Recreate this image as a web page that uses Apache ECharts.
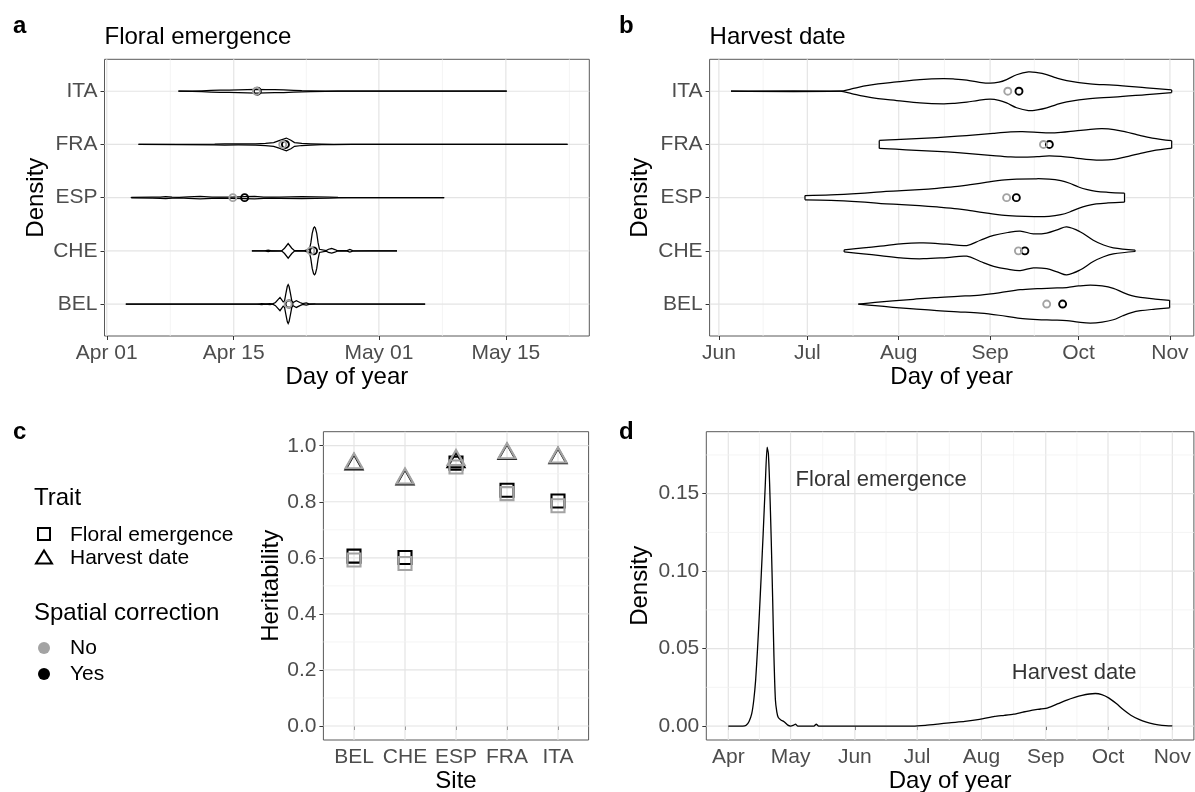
<!DOCTYPE html>
<html>
<head>
<meta charset="utf-8">
<script src="https://cdn.jsdelivr.net/npm/echarts@6/dist/echarts.min.js"></script>
<style>
  html, body { margin: 0; padding: 0; background: #fff; }
  #chart { width: 1195px; height: 792px; }
</style>
</head>
<body>
<div id="chart"></div>
<script>
const sites = ['BEL', 'CHE', 'ESP', 'FRA', 'ITA'];
const siteTicks = [1, 2, 3, 4, 5];

// a - floral emergence (day of year)
const feTicks = [91, 105, 121, 135];
const feTickLabels = ['Apr 01', 'Apr 15', 'May 01', 'May 15'];
const feMinor = [98, 113, 128, 142];
// violin outlines: [day, half width in site units]
const feBEL = [[93.1,0],[107.5,0],[108.1,0.008],[108.5,0.002],[109.0,0.008],[109.3,0.003],[109.6,0.03],[110.1,0.125],[110.45,0.04],[110.6,0.06],[110.75,0.2],[110.9,0.33],[111.0,0.366],[111.1,0.33],[111.25,0.2],[111.4,0.06],[111.55,0.03],[111.9,0.063],[112.3,0.03],[112.6,0.008],[113.0,0.02],[113.3,0.005],[114.0,0.002],[126.1,0]];
const feCHE = [[107.0,0],[108.4,0.002],[108.8,0.012],[109.2,0.002],[110.3,0.004],[110.6,0.05],[111.0,0.138],[111.4,0.05],[111.7,0.005],[112.8,0.004],[113.35,0.03],[113.5,0.15],[113.65,0.33],[113.8,0.43],[113.9,0.45],[114.0,0.43],[114.15,0.33],[114.3,0.15],[114.45,0.03],[115.2,0.005],[115.45,0.03],[115.8,0.044],[116.15,0.025],[116.4,0.004],[117.5,0.004],[117.8,0.025],[118.1,0.004],[120,0.002],[123.0,0]];
const feESP = [[93.7,0.006],[96,0.008],[96.9,0.012],[97.5,0.018],[98.2,0.01],[99,0.006],[100,0.014],[101.3,0.024],[102.6,0.012],[103.5,0.008],[104.9,0.012],[106.2,0.02],[107.3,0.024],[108.3,0.012],[109.2,0.008],[110.1,0.012],[112.5,0.018],[115.6,0.01],[116.5,0.004],[118,0.001],[128.2,0]];
const feFRA = [[94.5,0],[99,0.003],[102.9,0.006],[104,0.012],[105.5,0.01],[107.4,0.012],[108.5,0.022],[109.4,0.035],[110.0,0.07],[110.8,0.12],[111.3,0.08],[111.7,0.035],[112.5,0.02],[113.5,0.012],[114.7,0.005],[116,0.002],[118,0.001],[141.8,0]];
const feITA = [[98.9,0],[100.4,0.004],[101.5,0.008],[102.5,0.015],[103.5,0.02],[104.5,0.022],[105.5,0.026],[106.5,0.03],[107.5,0.034],[108.5,0.03],[109.5,0.028],[110.5,0.024],[111.6,0.018],[112.5,0.01],[113.5,0.006],[115.1,0.002],[116.5,0],[135.1,0]];
const feMeanNo = [111.0, 113.5, 104.9, 110.4, 107.5];
const feMeanYes = [111.1, 113.8, 106.2, 110.7, 107.6];

// b - harvest date (day of year)
const hdTicks = [152, 182, 213, 244, 274, 305];
const hdTickLabels = ['Jun', 'Jul', 'Aug', 'Sep', 'Oct', 'Nov'];
const hdMinor = [167, 197.5, 228.5, 259, 289.5];
const hdBEL = [[199.3,0],[205,0.03],[211,0.06],[218,0.09],[225,0.12],[233,0.145],[240.7,0.17],[247,0.21],[254.2,0.27],[260,0.29],[265,0.3],[270,0.31],[274,0.34],[278,0.357],[282,0.34],[285.8,0.295],[289,0.22],[292,0.16],[295,0.125],[300,0.095],[304.9,0.07]];
const hdCHE = [[194.5,0.02],[201,0.056],[206.7,0.088],[214.6,0.138],[221.4,0.148],[229.3,0.125],[236.1,0.1],[240.7,0.2],[245.2,0.29],[250,0.345],[254.2,0.37],[258.7,0.32],[263.2,0.335],[267,0.4],[270,0.45],[274.5,0.36],[279,0.2],[282.5,0.11],[285.8,0.056],[293.2,0.012]];
const hdESP = [[181.2,0.04],[190,0.05],[200,0.08],[207,0.11],[214,0.13],[220,0.15],[226,0.175],[233,0.21],[238,0.25],[243,0.29],[248,0.33],[253,0.348],[259,0.355],[264,0.35],[268,0.32],[271,0.27],[274,0.2],[277,0.15],[280,0.118],[284,0.1],[289.6,0.085]];
const hdFRA = [[206.4,0.075],[212,0.09],[219,0.11],[226,0.13],[233,0.155],[239,0.18],[245,0.21],[251,0.235],[255,0.24],[260,0.228],[264,0.215],[268,0.225],[273,0.255],[278,0.285],[282,0.295],[286,0.28],[290,0.235],[294,0.18],[299,0.12],[305.6,0.07]];
const hdITA = [[156.1,0],[193.1,0],[197,0.045],[201,0.094],[206,0.14],[212.3,0.175],[220.2,0.219],[228.1,0.238],[232,0.228],[236.1,0.207],[240,0.17],[244,0.15],[247,0.17],[249.6,0.219],[253,0.31],[257,0.363],[260,0.35],[263.2,0.313],[266.5,0.25],[270,0.2],[277.9,0.138],[285.8,0.113],[297.1,0.063],[305.6,0.025]];
const hdMeanNo = [263.2, 253.6, 249.6, 262.1, 250.0];
const hdMeanYes = [268.6, 255.8, 252.9, 264.1, 253.8];

// c - heritability
const herTicks = [0, 0.2, 0.4, 0.6, 0.8, 1.0];
const herMinor = [0.1, 0.3, 0.5, 0.7, 0.9];
const herFeNo = [0.592, 0.580, 0.924, 0.829, 0.786];
const herFeYes = [0.606, 0.601, 0.938, 0.841, 0.803];
const herHdNo = [0.946, 0.892, 0.958, 0.982, 0.967];
const herHdYes = [0.942, 0.888, 0.950, 0.979, 0.964];

// d - density of both traits
const monthTicks = [91, 121, 152, 182, 213, 244, 274, 305];
const monthLabels = ['Apr', 'May', 'Jun', 'Jul', 'Aug', 'Sep', 'Oct', 'Nov'];
const monthMinor = [106, 136.5, 167, 197.5, 228.5, 259, 289.5];
const densTicks = [0, 0.05, 0.10, 0.15];
const densMinor = [0.025, 0.075, 0.125, 0.175];
const densDay = [91,98,99.6,101,102.3,103.3,104.2,105.1,106.0,106.9,107.8,108.8,109.7,110.3,110.9,111.7,112.4,113.0,113.7,114.4,115.1,116.5,117.9,119.7,121,122.5,123.4,124.5,132.3,133.4,134.5,180,186,192,197.5,205,212.1,219.4,224,228.6,233,237.7,241.5,245.0,250,254.2,258,261.5,265,267.9,271,274.3,278,281.6,285,288.9,292.5,296.2,300,305];
const densVal = [0,0,0.0005,0.003,0.008,0.017,0.03,0.05,0.073,0.098,0.124,0.155,0.180,0.176,0.157,0.12,0.081,0.045,0.017,0.009,0.0055,0.0038,0.0028,0.0006,0,0.0006,0.0012,0,0,0.0012,0,0,0.0005,0.0013,0.0021,0.003,0.0043,0.0062,0.0069,0.0077,0.009,0.0103,0.011,0.0118,0.0145,0.0168,0.0185,0.0198,0.0207,0.021,0.0203,0.0182,0.0145,0.0103,0.007,0.0043,0.0025,0.0013,0.0005,0.0001];
const noteText = ['Floral emergence', 'Harvest date'];
const noteDay = [164.7, 257.7];
const noteVal = [0.1587, 0.0344];

const FONT = "'Liberation Sans', Arial, sans-serif";
const TICK_TXT = '#4d4d4d';
const NO_COL = '#a3a3a3';

function pick(ticks, labels) {
  return v => {
    const i = ticks.findIndex(t => Math.abs(t - v) < 1e-6);
    return i < 0 ? '' : labels[i];
  };
}

function valAxis(gridIndex, min, max, ticks, fmt, name, gap) {
  return {
    type: 'value', gridIndex, min, max,
    name, nameLocation: 'middle', nameGap: gap,
    nameTextStyle: { fontSize: 24, color: '#000', fontFamily: FONT },
    axisLine: { show: false },
    axisTick: { show: true, customValues: ticks, length: 4, lineStyle: { color: '#333', width: 1 } },
    axisLabel: { customValues: ticks, formatter: fmt, fontSize: 21, color: TICK_TXT, fontFamily: FONT, margin: 7 },
    splitLine: { show: false }
  };
}

// background grid lines for one panel
function gridLines(idx, xMajor, xMinor, yMajor, yMinor) {
  const data = [];
  xMajor.forEach(v => data.push([v, v, 0, 1]));
  xMinor.forEach(v => data.push([v, v, 0, 0]));
  yMajor.forEach(v => data.push([v, v, 1, 1]));
  yMinor.forEach(v => data.push([v, v, 1, 0]));
  return {
    type: 'custom', xAxisIndex: idx, yAxisIndex: idx, silent: true, z: 1,
    data,
    renderItem(params, api) {
      const cs = params.coordSys;
      const p = api.coord([api.value(0), api.value(1)]);
      const major = api.value(3) === 1;
      const style = { stroke: major ? '#e4e4e4' : '#f1f1f1', lineWidth: major ? 1.2 : 0.8 };
      if (api.value(2) === 0) {
        return { type: 'line', shape: { x1: p[0], y1: cs.y, x2: p[0], y2: cs.y + cs.height }, style };
      }
      return { type: 'line', shape: { x1: cs.x, y1: p[1], x2: cs.x + cs.width, y2: p[1] }, style };
    }
  };
}

function violins(idx, profiles, smooth) {
  return {
    type: 'custom', xAxisIndex: idx, yAxisIndex: idx, silent: true, z: 2,
    data: profiles.map((p, i) => [p[0][0], i + 1]),
    renderItem(params, api) {
      const prof = profiles[params.dataIndex];
      const site = api.value(1);
      const unit = api.size([0, 1])[1];
      const top = prof.map(([d, w]) => { const c = api.coord([d, site]); return [c[0], c[1] - w * unit]; });
      const bot = prof.map(([d, w]) => { const c = api.coord([d, site]); return [c[0], c[1] + w * unit]; });
      const st = { stroke: '#000', lineWidth: 1.25, fill: null };
      const a = top[0], b = bot[0], c = top[top.length - 1], d = bot[bot.length - 1];
      return {
        type: 'group',
        children: [
          { type: 'polygon', shape: { points: top.concat(bot.slice().reverse()), smooth }, style: { fill: '#fff', stroke: null } },
          { type: 'polyline', shape: { points: top, smooth }, style: st },
          { type: 'polyline', shape: { points: bot, smooth }, style: st },
          { type: 'line', shape: { x1: a[0], y1: a[1], x2: b[0], y2: b[1] }, style: st },
          { type: 'line', shape: { x1: c[0], y1: c[1], x2: d[0], y2: d[1] }, style: st }
        ]
      };
    }
  };
}

function means(idx, vals, color) {
  return {
    type: 'scatter', xAxisIndex: idx, yAxisIndex: idx, silent: true, z: 3,
    symbol: 'circle', symbolSize: 7,
    itemStyle: { color: 'rgba(0,0,0,0)', borderColor: color, borderWidth: 1.9, opacity: 1 },
    data: vals.map((v, i) => [v, i + 1])
  };
}

function herPoints(vals, color, symbol, size) {
  return {
    type: 'scatter', xAxisIndex: 2, yAxisIndex: 2, silent: true, z: 3,
    symbol, symbolSize: size,
    itemStyle: { color: 'rgba(0,0,0,0)', borderColor: color, borderWidth: 2.1, opacity: 1 },
    data: vals.map((v, i) => [i + 1, v])
  };
}

function txt(text, x, y, size, weight) {
  return {
    type: 'text', x, y,
    style: { text, fontSize: size, fontFamily: FONT, fontWeight: weight || 'normal', fill: '#000',
      textVerticalAlign: 'middle', verticalAlign: 'middle', textAlign: 'left', align: 'left' }
  };
}

const chart = echarts.init(document.getElementById('chart'), null, { renderer: 'canvas' });
const gridBase = { show: true, borderColor: '#595959', borderWidth: 1, backgroundColor: '#fff', containLabel: false, outerBoundsMode: 'none' };

chart.setOption({
  animation: false,
  backgroundColor: '#fff',
  textStyle: { fontFamily: FONT },
  grid: [
    Object.assign({ left: 104.5, top: 59.3, width: 484.8, height: 276.7 }, gridBase),
    Object.assign({ left: 709.6, top: 59.3, width: 484.2, height: 276.7 }, gridBase),
    Object.assign({ left: 323.4, top: 431.7, width: 265.2, height: 308.3 }, gridBase),
    Object.assign({ left: 706.3, top: 431.7, width: 487.6, height: 308.3 }, gridBase)
  ],
  xAxis: [
    valAxis(0, 90.75, 144.2, feTicks, pick(feTicks, feTickLabels), 'Day of year', 28),
    valAxis(1, 148.85, 313.1, hdTicks, pick(hdTicks, hdTickLabels), 'Day of year', 28),
    valAxis(2, 0.4, 5.6, siteTicks, pick(siteTicks, sites), 'Site', 28),
    valAxis(3, 80.4, 315.4, monthTicks, pick(monthTicks, monthLabels), 'Day of year', 28)
  ],
  yAxis: [
    valAxis(0, 0.4, 5.6, siteTicks, pick(siteTicks, sites), 'Density', 56),
    valAxis(1, 0.4, 5.6, siteTicks, pick(siteTicks, sites), 'Density', 57),
    valAxis(2, -0.05, 1.05, herTicks, v => v.toFixed(1), 'Heritability', 40),
    valAxis(3, -0.009, 0.19, densTicks, v => v.toFixed(2), 'Density', 54)
  ],
  graphic: [
    txt('a', 13, 26, 24, 'bold'),
    txt('b', 619, 26, 24, 'bold'),
    txt('c', 13, 432, 24, 'bold'),
    txt('d', 619, 432, 24, 'bold'),
    txt('Floral emergence', 104.5, 37, 24),
    txt('Harvest date', 709.6, 37, 24),
    // legend
    txt('Trait', 34, 498, 24),
    { type: 'rect', shape: { x: 38, y: 528, width: 12, height: 12 }, style: { fill: null, stroke: '#000', lineWidth: 2 } },
    txt('Floral emergence', 70, 535, 21),
    { type: 'polygon', shape: { points: [[36, 563.5], [52, 563.5], [44, 550.5]] }, style: { fill: null, stroke: '#000', lineWidth: 2 } },
    txt('Harvest date', 70, 558, 21),
    txt('Spatial correction', 34, 613, 24),
    { type: 'circle', shape: { cx: 44, cy: 648, r: 6 }, style: { fill: NO_COL } },
    txt('No', 70, 648, 21),
    { type: 'circle', shape: { cx: 44, cy: 674, r: 6 }, style: { fill: '#000' } },
    txt('Yes', 70, 674, 21)
  ],
  series: [
    gridLines(0, feTicks, feMinor, siteTicks, []),
    gridLines(1, hdTicks, hdMinor, siteTicks, []),
    gridLines(2, siteTicks, [], herTicks, herMinor),
    gridLines(3, monthTicks, monthMinor, densTicks, densMinor),

    violins(0, [feBEL, feCHE, feESP, feFRA, feITA], 0),
    means(0, feMeanYes, '#000'),
    means(0, feMeanNo, NO_COL),

    violins(1, [hdBEL, hdCHE, hdESP, hdFRA, hdITA], 0.35),
    means(1, hdMeanYes, '#000'),
    means(1, hdMeanNo, NO_COL),

    herPoints(herFeYes, '#000', 'rect', 13),
    herPoints(herHdYes, '#000', 'triangle', [17, 15]),
    herPoints(herFeNo, NO_COL, 'rect', 13),
    herPoints(herHdNo, NO_COL, 'triangle', [17, 15]),

    {
      type: 'line', xAxisIndex: 3, yAxisIndex: 3, silent: true, z: 3,
      showSymbol: false, smooth: 0.2,
      lineStyle: { color: '#000', width: 1.3 },
      data: densDay.map((d, i) => [d, densVal[i]])
    },
    {
      type: 'scatter', xAxisIndex: 3, yAxisIndex: 3, silent: true, z: 4,
      symbolSize: 1, itemStyle: { color: 'rgba(0,0,0,0)' },
      label: { show: true, position: 'inside', formatter: p => p.name, fontSize: 22, color: '#000', fontFamily: FONT },
      data: noteText.map((t, i) => ({ name: t, value: [noteDay[i], noteVal[i]] }))
    }
  ]
});
</script>
</body>
</html>
